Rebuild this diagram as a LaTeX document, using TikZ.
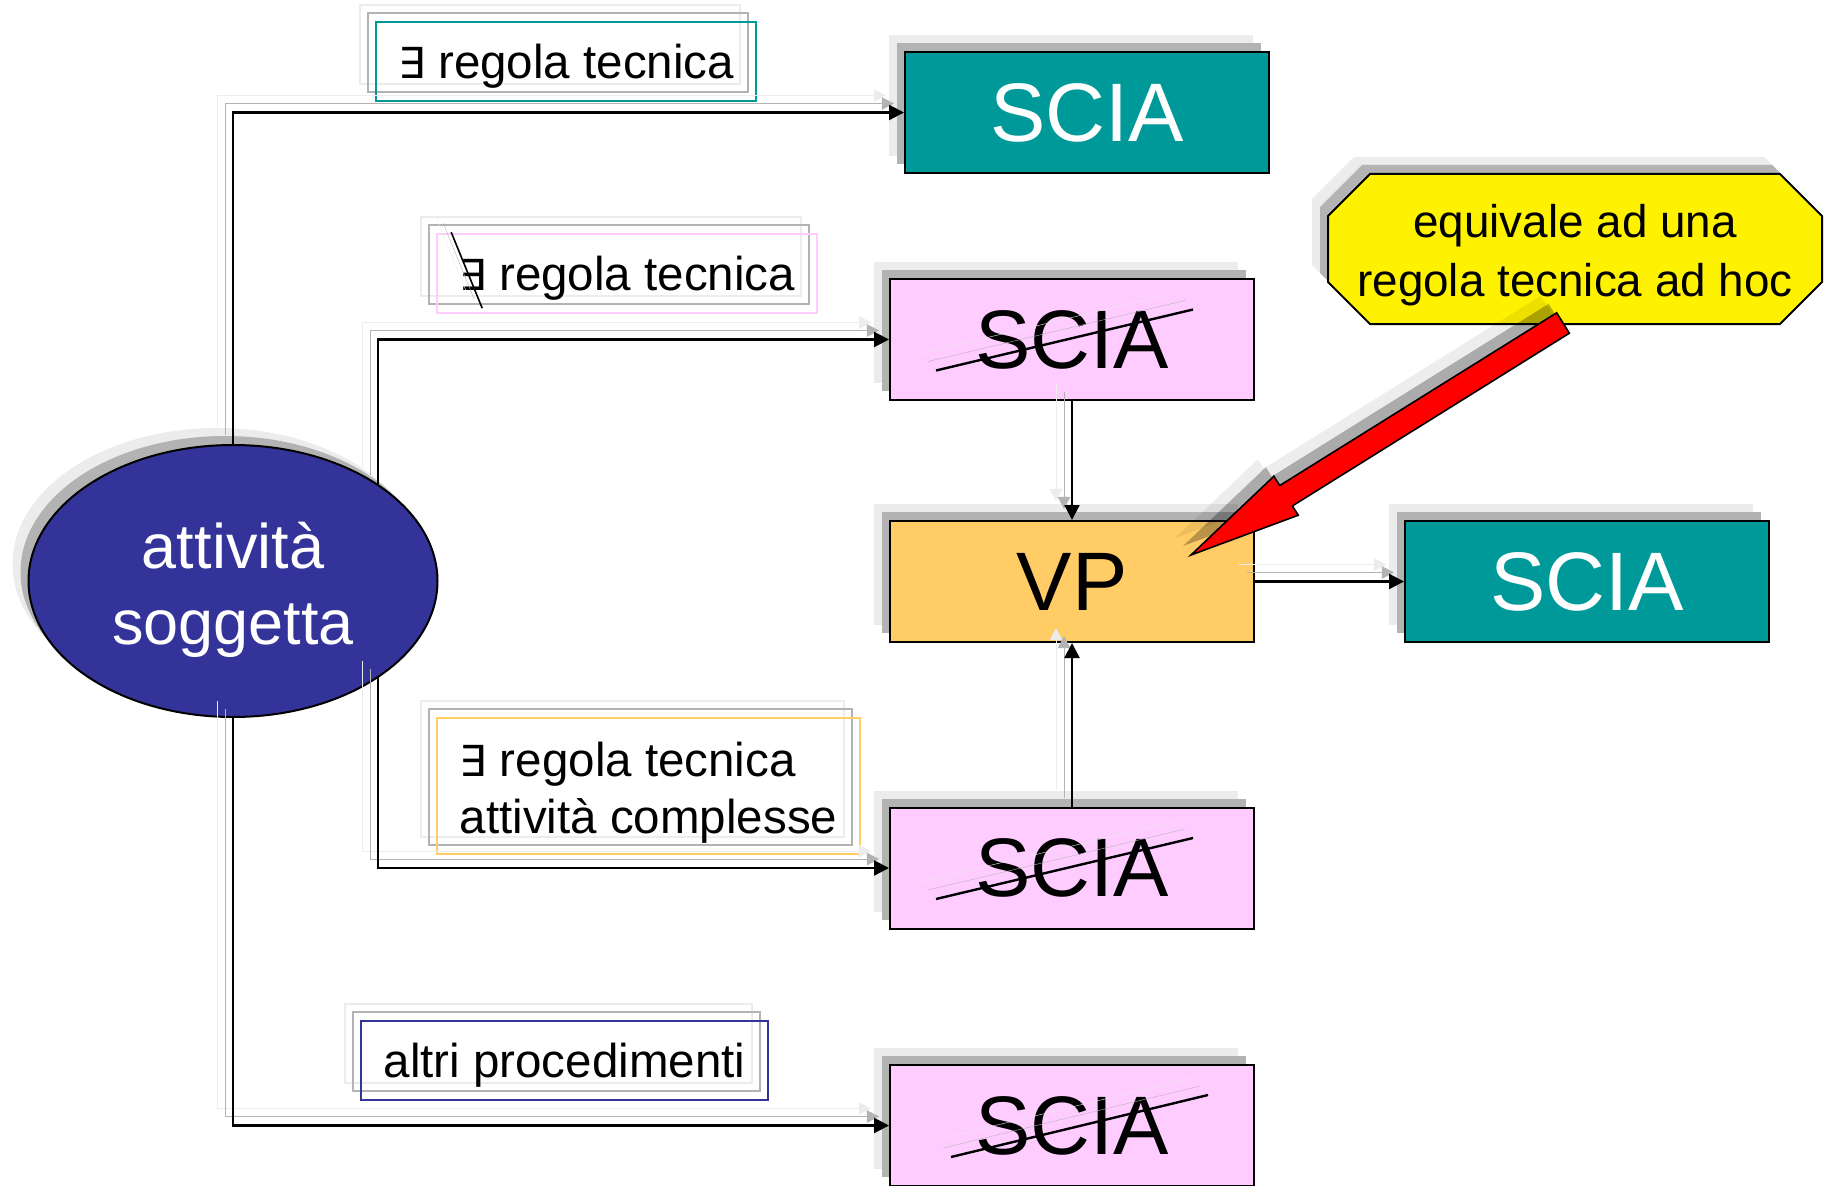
\documentclass[tikz,border=0pt]{standalone}
\usepackage{fontspec}
\setmainfont{Liberation Sans}
\newfontfamily\symfont[Scale=0.9]{DejaVu Sans}
\usetikzlibrary{arrows.meta,calc,shadows,shapes.geometric}

\definecolor{sciateal}{RGB}{0,153,153}
\definecolor{sciapink}{RGB}{255,204,255}
\definecolor{vporange}{RGB}{255,204,102}
\definecolor{attblue}{RGB}{51,51,153}
\definecolor{ghostnear}{RGB}{179,179,179}
\definecolor{ghostfar}{RGB}{236,236,236}

\newcommand{\esiste}{{\symfont ∃}}

\tikzset{
 ghost/.style={general shadow={shadow xshift=-16pt,shadow yshift=17pt,fill=ghostfar},
  general shadow={shadow xshift=-8pt,shadow yshift=9pt,fill=ghostnear}},
 ghostframe/.style={general shadow={shadow xshift=-16pt,shadow yshift=17pt,draw=ghostfar,line width=2pt},
  general shadow={shadow xshift=-8pt,shadow yshift=9pt,draw=ghostnear,line width=2pt}},
 ghostpath/.style={preaction={draw=ghostfar,transform canvas={shift={(-16pt,17pt)}},#1},
  preaction={draw=ghostnear,transform canvas={shift={(-8pt,9pt)}},#1}},
 ghostpath/.default={},
 box/.style={rectangle,draw=black,line width=2pt,minimum width=364pt,minimum height=121pt,
  inner sep=0pt,font=\fontsize{83}{96}\selectfont,ghost},
 ok/.style={box,fill=sciateal,text=white},
 no/.style={box,fill=sciapink},
 tag/.style={rectangle,line width=1.6pt,inner sep=0pt,align=left,
  font=\fontsize{47.5}{57}\selectfont,ghostframe},
 wire/.style={line width=2.2pt,-{Triangle[length=15pt,width=15pt]},
  ghostpath={-{Triangle[length=15pt,width=15pt]}}},
 strike/.style={line width=2.4pt,ghostpath}
}

\begin{document}
\begin{tikzpicture}[x=1pt,y=-1pt]
\useasboundingbox (0,0) rectangle (1843,1185);
% blocchi
\node[ellipse,draw=black,line width=2pt,fill=attblue,minimum width=409pt,
 minimum height=272pt,inner sep=0pt,ghost,
 label={[text=white,align=center,font=\fontsize{63}{76}\selectfont,yshift=-9pt]center:attività\\soggetta}]
 (att) at (233,581) {};
\node[ok] (sc1) at (1087,112.5) {SCIA};
\node[no] (sc2) at (1072,339.5) {SCIA};
\node[box,fill=vporange] (vp) at (1072,581.5) {VP};
\node[ok] (sc5) at (1587,581.5) {SCIA};
\node[no] (sc3) at (1072,868) {SCIA};
\node[no] (sc4) at (1072,1125.5) {SCIA};
% nota ottagonale
\coordinate (nc) at (1575,249);
\draw[line width=2pt,fill=yellow,ghost]
 ($(nc)+(-205,-75)$) -- ($(nc)+(205,-75)$) -- ($(nc)+(247,-33)$) -- ($(nc)+(247,33)$)
 -- ($(nc)+(205,75)$) -- ($(nc)+(-205,75)$) -- ($(nc)+(-247,33)$) -- ($(nc)+(-247,-33)$) -- cycle;
\node[align=center,font=\fontsize{45.8}{59}\selectfont] (note) at ($(nc)+(0,6)$)
 {equivale ad una\\regola tecnica ad hoc};
% etichette
\node[tag,draw=sciateal,minimum width=380pt,minimum height=79pt,text height=44pt,text depth=10pt]
 (lab1) at (566,61.5) {\esiste{} regola tecnica};
\node[tag,draw=sciapink,minimum width=380pt,minimum height=79pt,text height=44pt,text depth=10pt]
 (lab2) at (627,273.5) {\esiste{} regola tecnica};
\node[tag,draw=vporange,minimum width=423pt,minimum height=136pt]
 (lab3) at (648.5,786) {\rule{0pt}{47pt}\esiste{} regola tecnica\\attività complesse};
\node[tag,draw=attblue,minimum width=407pt,minimum height=79pt,text height=44pt,text depth=10pt]
 (lab4) at (564.5,1060.5) {altri procedimenti};
% collegamenti
\draw[wire] (att.north) |- (sc1);
\draw[wire] (att.north east) |- (sc2);
\draw[wire] (att.south east) |- (sc3);
\draw[wire] (att.south) |- (sc4);
\draw[wire] (sc2) -- (vp);
\draw[wire] (sc3) -- (vp);
\draw[wire] (vp) -- (sc5);
% SCIA barrate
\foreach \b in {sc2,sc3}
 \draw[strike] ($(\b.center)+(-136,31)$) -- ($(\b.center)+(121,-30)$);
\draw[strike] ($(sc4.center)+(-121,31.5)$) -- ($(sc4.center)+(136,-30.5)$);
\draw[line width=1.6pt,ghostpath] ($(lab2.north west)+(15,-1)$) -- ($(lab2.north west)+(46,75)$);
% freccia rossa
\coordinate (tail) at ($(nc)+(-12,74)$);
\coordinate (tip) at ($(vp.north east)+(-64,35)$);
\coordinate (neck) at ($(tip)!112pt!(tail)$);
\filldraw[fill=red,draw=black,line width=1.6pt,
 general shadow={shadow xshift=-16pt,shadow yshift=17pt,fill=black,opacity=.07},
 general shadow={shadow xshift=-8pt,shadow yshift=9pt,fill=black,opacity=.28}]
 ($(tail)!12pt!90:(tip)$) -- ($(neck)!12pt!90:(tip)$) -- ($(neck)!23pt!90:(tip)$) -- (tip)
 -- ($(neck)!23pt!-90:(tip)$) -- ($(neck)!12pt!-90:(tip)$) -- ($(tail)!12pt!-90:(tip)$) -- cycle;
\end{tikzpicture}
\end{document}
